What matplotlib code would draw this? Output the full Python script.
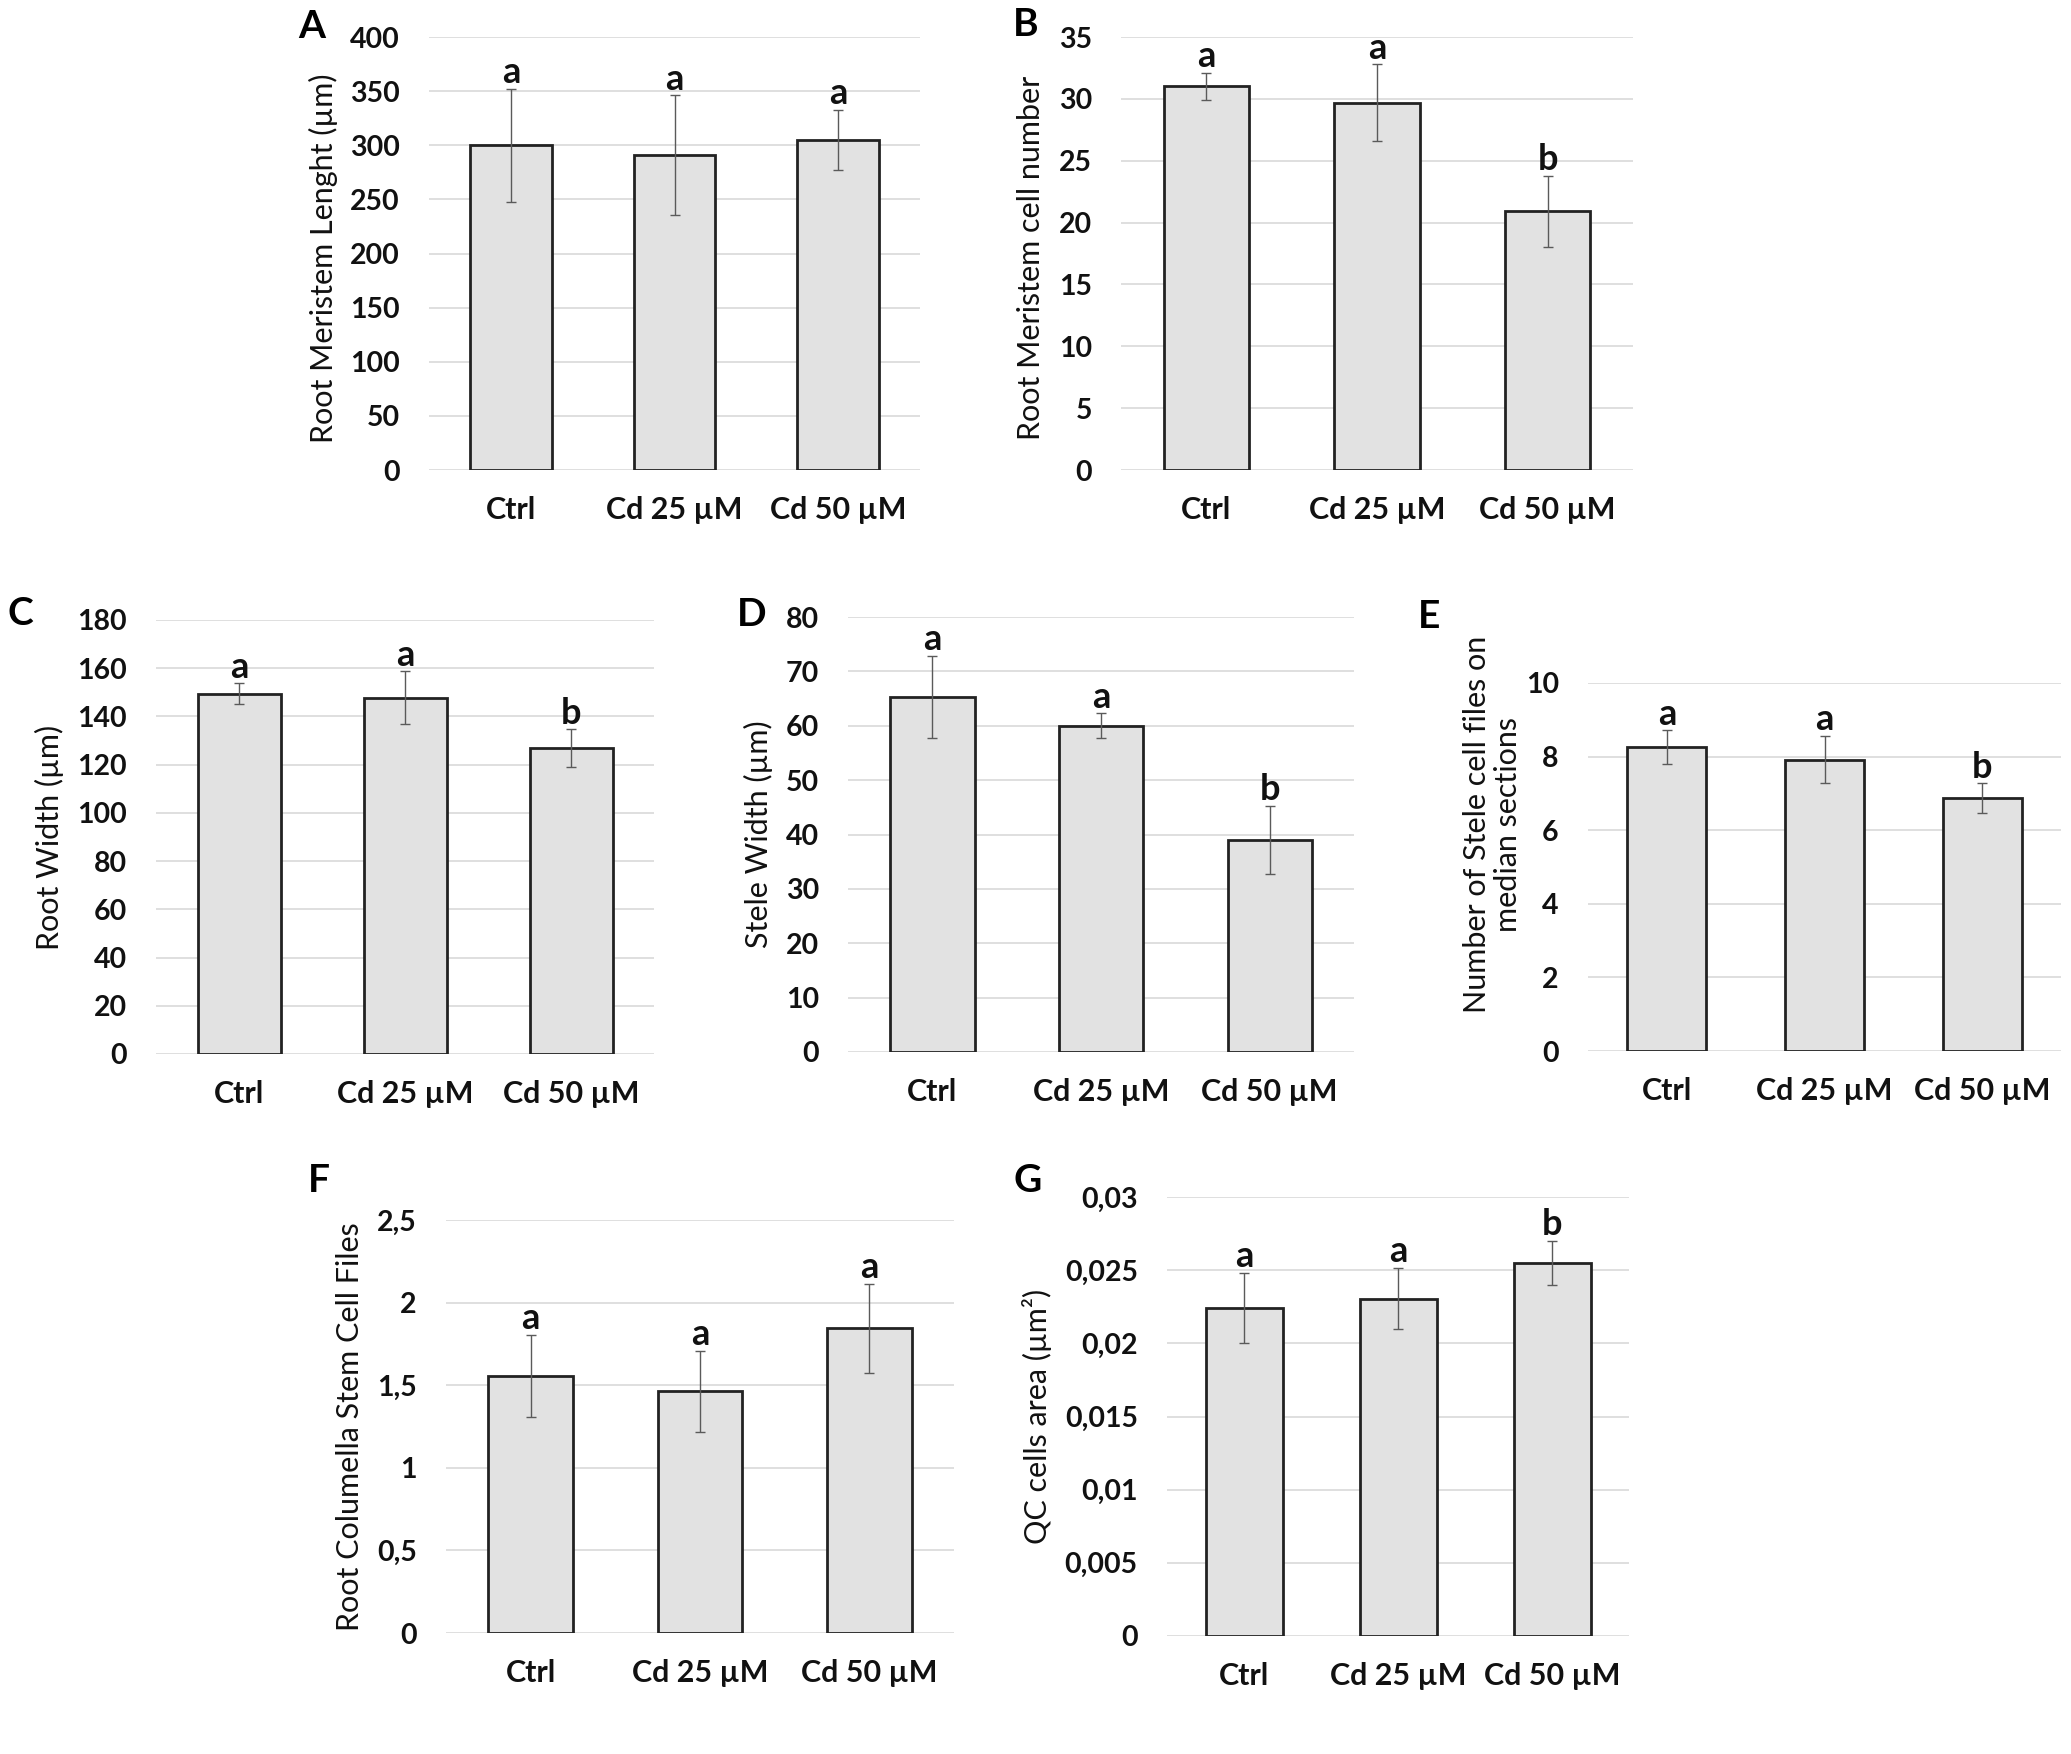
import matplotlib
matplotlib.use("Agg")
import matplotlib.pyplot as plt
from matplotlib.ticker import FuncFormatter

plt.rcParams['font.family'] = ['Lato', 'DejaVu Sans']

categories = ['Ctrl', 'Cd 25 µM', 'Cd 50 µM']

meristem_length = [300, 291, 305]
meristem_length_err = [52, 55, 28]
meristem_length_letters = ['a', 'a', 'a']

meristem_cells = [31.0, 29.7, 20.9]
meristem_cells_err = [1.1, 3.1, 2.9]
meristem_cells_letters = ['a', 'a', 'b']

root_width = [149.5, 147.8, 126.8]
root_width_err = [4.2, 11.0, 7.8]
root_width_letters = ['a', 'a', 'b']

stele_width = [65.3, 60.0, 39.0]
stele_width_err = [7.6, 2.3, 6.3]
stele_width_letters = ['a', 'a', 'b']

stele_files = [8.25, 7.92, 6.88]
stele_files_err = [0.46, 0.64, 0.40]
stele_files_letters = ['a', 'a', 'b']

columella_files = [1.555, 1.462, 1.845]
columella_files_err = [0.25, 0.246, 0.27]
columella_files_letters = ['a', 'a', 'a']

qc_area = [0.02244, 0.02305, 0.02549]
qc_area_err = [0.0024, 0.0021, 0.0015]
qc_area_letters = ['a', 'a', 'b']

W, H = 2071, 1754
fig = plt.figure(figsize=(W / 100, H / 100), dpi=100)

comma = FuncFormatter(lambda v, p: ('%g' % v).replace('.', ','))


def panel(px, vals, errs, letters, ymax, ystep, ylabel, tag, tag_xy,
          ylab_x, ylab_y=0.5, ylab_ls=1.2):
    x0, y0, x1, y1 = px
    ax = fig.add_axes([x0 / W, 1 - y1 / H, (x1 - x0) / W, (y1 - y0) / H])
    xs = range(len(categories))
    ax.bar(xs, vals, width=0.5, color='#e2e2e2', edgecolor='#222222',
           linewidth=2.0, zorder=2)
    ax.errorbar(xs, vals, yerr=errs, fmt='none', ecolor='#5a5a5a',
                elinewidth=1.0, capsize=3.8, capthick=1.0, zorder=3)
    for i, (v, e, l) in enumerate(zip(vals, errs, letters)):
        ax.annotate(l, (i, v + e), xytext=(0, 4), textcoords='offset points',
                    ha='center', va='baseline', fontsize=26, fontweight='bold',
                    color='#111111', zorder=4, annotation_clip=False)
    ax.set_xlim(-0.5, len(categories) - 0.5)
    ax.set_ylim(0, ymax)
    n = int(round(ymax / ystep))
    ax.set_yticks([ystep * k for k in range(n + 1)])
    ax.yaxis.set_major_formatter(comma)
    ax.set_xticks(list(xs))
    ax.set_xticklabels(categories)
    for s in ax.spines.values():
        s.set_visible(False)
    ax.yaxis.grid(True, color='#d9d9d9', linewidth=1.2, zorder=0)
    ax.set_axisbelow(True)
    ax.tick_params(axis='both', length=0, colors='#111111')
    ax.tick_params(axis='y', pad=21, labelsize=20.5)
    ax.tick_params(axis='x', pad=19, labelsize=22)
    for t in ax.get_xticklabels() + ax.get_yticklabels():
        t.set_fontweight('bold')
    ax.text(ylab_x, ylab_y, ylabel, transform=ax.transAxes, rotation=90,
            ha='center', va='center', fontsize=22, color='#111111',
            multialignment='center', linespacing=ylab_ls)
    fig.text(tag_xy[0] / W, 1 - tag_xy[1] / H, tag, ha='center', va='center',
             fontsize=28, fontweight='bold', color='#000000')
    return ax


panel((429, 37, 920, 470), meristem_length, meristem_length_err,
      meristem_length_letters, 400, 50, 'Root Meristem Lenght (µm)',
      'A', (312, 27), -0.214, 0.49)
panel((1121, 37, 1633, 470), meristem_cells, meristem_cells_err,
      meristem_cells_letters, 35, 5, 'Root Meristem cell number',
      'B', (1026, 24), -0.175, 0.49)
panel((156, 620, 654, 1054), root_width, root_width_err,
      root_width_letters, 180, 20, 'Root Width (µm)',
      'C', (20, 614), -0.213)
panel((848, 617, 1354, 1052), stele_width, stele_width_err,
      stele_width_letters, 80, 10, 'Stele Width (µm)',
      'D', (752, 615), -0.176)
panel((1588, 683, 2061, 1051), stele_files, stele_files_err,
      stele_files_letters, 10, 2,
      'Number of Stele cell files on\nmedian sections',
      'E', (1429, 617), -0.202, 0.616, 1.15)
panel((446, 1220, 954, 1633), columella_files, columella_files_err,
      columella_files_letters, 2.5, 0.5, 'Root Columella Stem Cell Files',
      'F', (319, 1180), -0.188)
panel((1167, 1197, 1629, 1636), qc_area, qc_area_err,
      qc_area_letters, 0.03, 0.005, 'QC cells area (µm²)',
      'G', (1028, 1181), -0.282)

fig.savefig('out.png', dpi=100, facecolor='white')
